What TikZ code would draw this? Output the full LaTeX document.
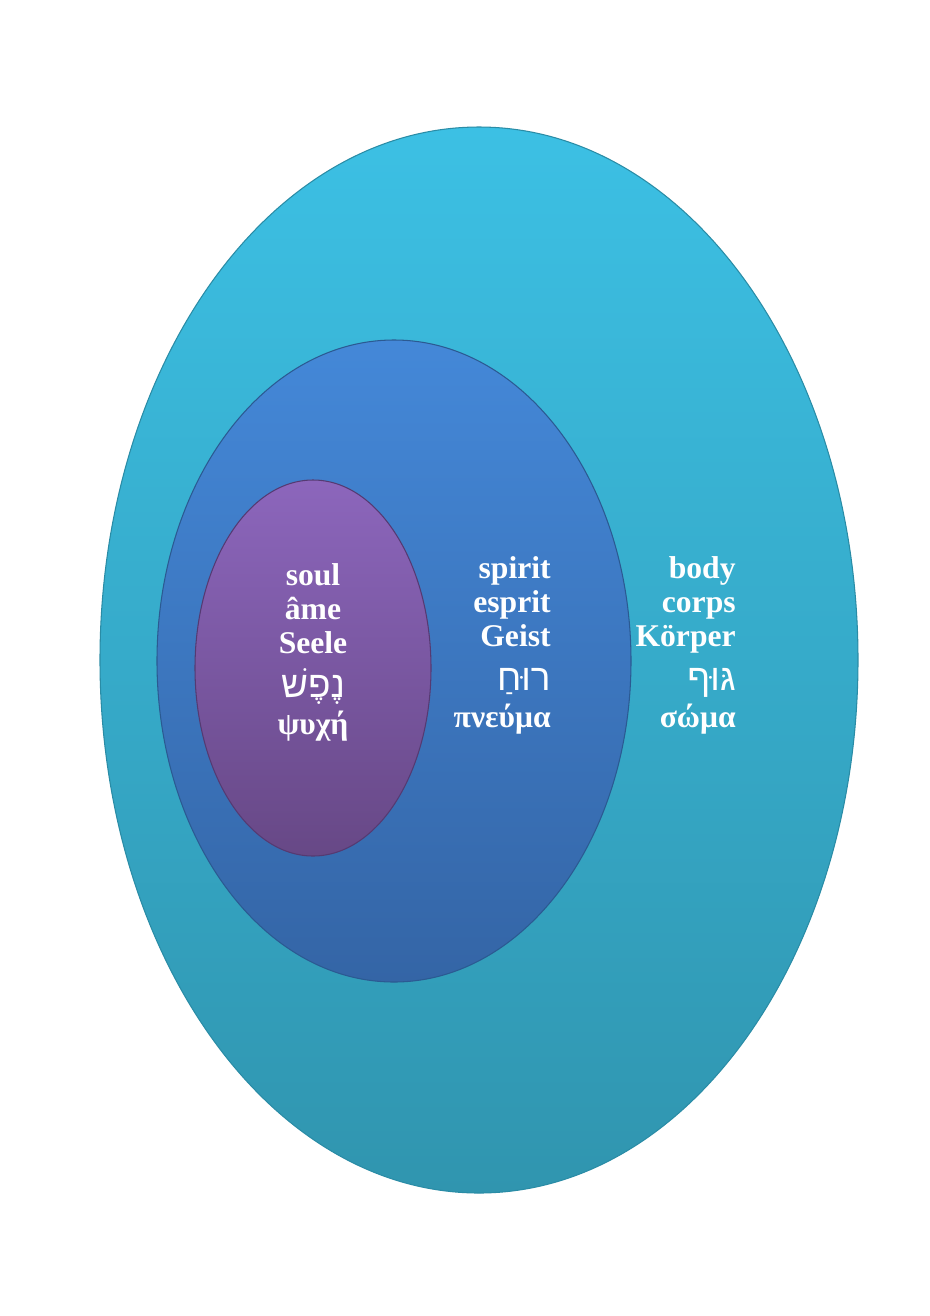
\documentclass[tikz,border=0pt]{standalone}
\usepackage{fontspec}
\setmainfont{Liberation Serif}
\newfontfamily\hebfont[Script=Hebrew]{Liberation Sans}
\TeXXeTstate=1
\usetikzlibrary{positioning}
\definecolor{bodyTop}{HTML}{3CC0E4}
\definecolor{bodyBot}{HTML}{3095AF}
\definecolor{bodyRim}{HTML}{2A8CA6}
\definecolor{spiritTop}{HTML}{4488D8}
\definecolor{spiritBot}{HTML}{3465A6}
\definecolor{spiritRim}{HTML}{2B5A92}
\definecolor{soulTop}{HTML}{8C66BC}
\definecolor{soulBot}{HTML}{674886}
\definecolor{soulRim}{HTML}{553A72}
\tikzset{
	layer/.style={line width=.6pt},
	bodyLayer/.style={layer, draw=bodyRim, top color=bodyTop, bottom color=bodyBot},
	spiritLayer/.style={layer, draw=spiritRim, top color=spiritTop, bottom color=spiritBot},
	soulLayer/.style={layer, draw=soulRim, top color=soulTop, bottom color=soulBot},
	words/.style={text=white, font=\bfseries\fontsize{18}{19.3}\selectfont, inner sep=0pt},
	heb/.style={}
}
\newcommand{\hebword}[1]{{\hebfont\mdseries\fontsize{21}{19.3}\selectfont\beginR #1\endR}}

\begin{document}
\begin{tikzpicture}[x=0.02cm, y=-0.02cm]
\fill[white] (0,0) rectangle (930,1316);
\useasboundingbox (0,0) rectangle (930,1316);
% the three layers
\path[bodyLayer] (479,660) ellipse [x radius=379, y radius=533];
\path[spiritLayer] (394,661) ellipse [x radius=237, y radius=321];
\path[soulLayer] (313,668) ellipse [x radius=118, y radius=188];
% labels
\node[words, align=center, anchor=north] (soul) at (313,563)
	{soul\\ âme\\ Seele\\[6pt] \hebword{נֶפֶשׁ}\\[2pt] ψυχή};
\node[words, align=right, anchor=north east] (spirit) at (551,556)
	{spirit\\ esprit\\ Geist\\[6pt] \hebword{רוּחַ}\\[2pt] πνεύμα};
\node[words, align=right, anchor=north east] (body) at (736,556)
	{body\\ corps\\ Körper\\[6pt] \hebword{גּוּף}\\[2pt] σώμα};
\end{tikzpicture}
\end{document}
